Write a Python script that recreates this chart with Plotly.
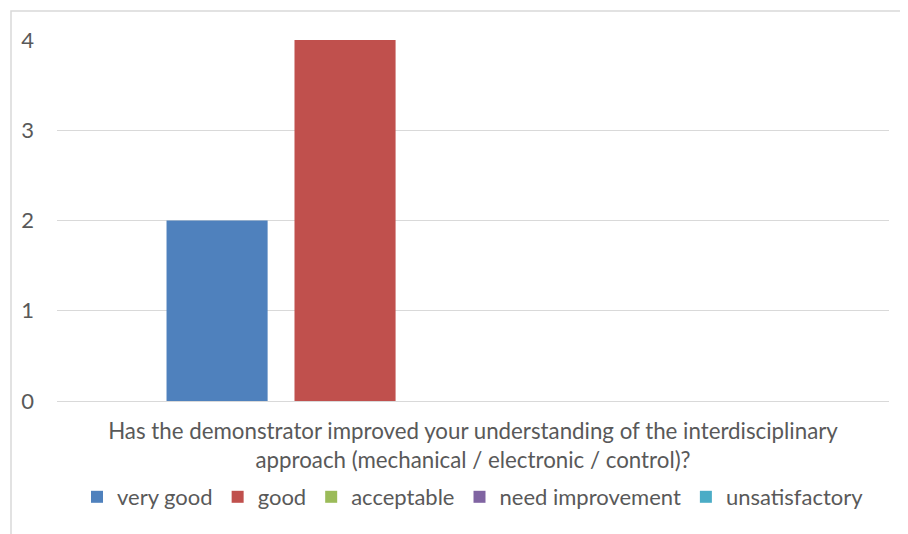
import plotly.graph_objects as go

categories = ["Has the demonstrator improved your understanding of the interdisciplinary<br>approach (mechanical / electronic / control)?"]
series_names = ["very good", "good", "acceptable", "need improvement", "unsatisfactory"]
series_values = [[2], [4], [0], [0], [0]]
series_colors = ["#4F81BD", "#C0504D", "#9BBB59", "#8064A2", "#4BACC6"]
y_ticks = [0, 1, 2, 3, 4]

# page has an 8px body margin; compensate so the plot area lands where the reference has it
OFF = 8
W, H = 908 - OFF, 534 - OFF
L, R, T, B = 57 - OFF, 19, 40 - OFF, 133
pw, ph = W - L - R, H - T - B

fig = go.Figure()
for name, vals, col in zip(series_names, series_values, series_colors):
    fig.add_trace(go.Bar(x=categories, y=vals, name=name, marker=dict(color=col, line=dict(width=0))))

font = "Lato, Calibri, Carlito, sans-serif"
FS = 22
fig.update_layout(
    width=W, height=H,
    margin=dict(l=L, r=R, t=T, b=B, pad=0),
    paper_bgcolor="white", plot_bgcolor="white",
    barmode="group", bargap=0.231, bargroupgap=0.21,
    font=dict(family=font, size=FS, color="#595959"),
    showlegend=True,
    legend=dict(orientation="h", x=0.5, xanchor="center", y=(401 - 497) / ph, yanchor="middle",
                font=dict(size=FS, color="#595959"), traceorder="normal",
                itemwidth=30, bgcolor="rgba(0,0,0,0)"),
    xaxis=dict(showgrid=False, showline=False, zeroline=False, ticks="",
               tickfont=dict(size=22.3, color="#595959"), ticklabelstandoff=15),
    yaxis=dict(range=[0, 4], tickvals=y_ticks, showgrid=True, gridcolor="#D9D9D9", gridwidth=1,
               zeroline=True, zerolinecolor="#D9D9D9", zerolinewidth=1, showline=False, ticks="",
               tickfont=dict(size=FS, color="#595959"), ticklabelstandoff=22),
    shapes=[dict(type="rect", xref="paper", yref="paper",
                 x0=(11 - OFF - L) / pw, x1=(W + 20 - L) / pw,
                 y0=-(B + 20) / ph, y1=1 + (T - (11 - OFF)) / ph,
                 line=dict(color="#D9D9D9", width=1.5), fillcolor="rgba(0,0,0,0)", layer="below")],
)
fig.write_html("out.html")
